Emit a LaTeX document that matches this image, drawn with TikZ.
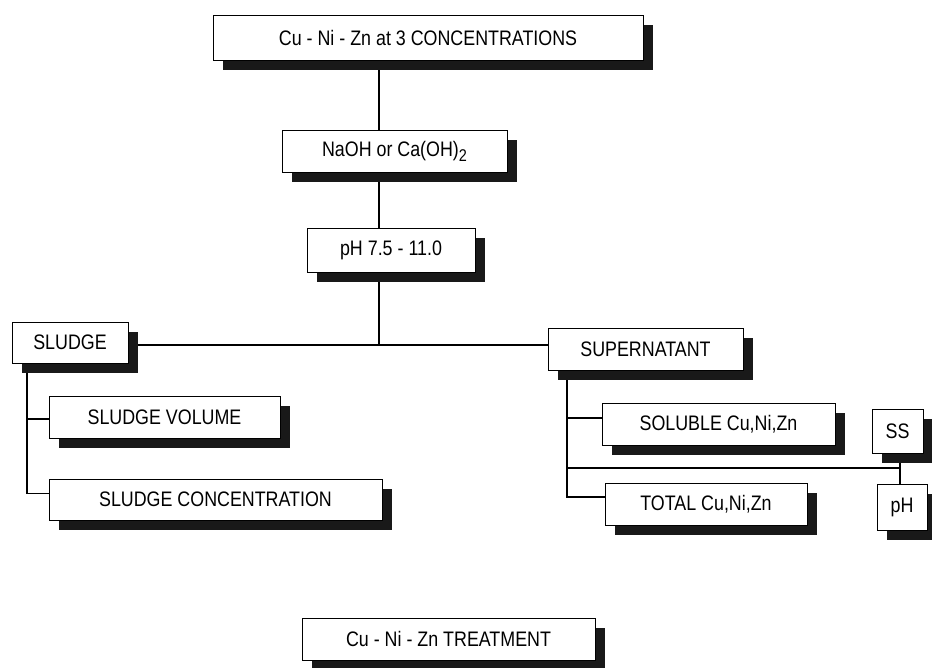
\documentclass[tikz,border=0pt]{standalone}
\usepackage{fontspec}
\setmainfont{Liberation Sans}[FakeStretch=0.85]
\usetikzlibrary{shadows,backgrounds}
\begin{document}
\begin{tikzpicture}[x=1pt,y=-1pt,
  box/.style={draw, fill=white, line width=0.8pt, inner sep=0pt,
    font=\fontsize{21}{24}\selectfont,
    drop shadow={shadow xshift=10pt, shadow yshift=-10pt, fill=black!90, opacity=1}},
  link/.style={line width=1.1pt}]
\useasboundingbox (0,0) rectangle (932,667);

% boxes
\node[box, minimum width=430pt, minimum height=45pt] (top)   at (428,37.5) {Cu - Ni - Zn at 3 CONCENTRATIONS};
\node[box, minimum width=225pt, minimum height=42pt] (naoh)  at (394.5,151) {NaOH or Ca(OH)\raisebox{-5pt}{\fontsize{17}{17}\selectfont 2}};
\node[box, minimum width=168pt, minimum height=44pt] (phr)   at (391,250) {pH 7.5 - 11.0};
\node[box, minimum width=116pt, minimum height=41pt] (sludge) at (70,342.5) {SLUDGE};
\node[box, minimum width=195pt, minimum height=42pt] (supern) at (645.5,349) {SUPERNATANT};
\node[box, minimum width=231pt, minimum height=42pt] (svol)  at (164.5,417) {SLUDGE VOLUME};
\node[box, minimum width=333pt, minimum height=41pt] (sconc) at (215.5,499.5) {SLUDGE CONCENTRATION};
\node[box, minimum width=233pt, minimum height=42pt] (sol)   at (718.5,424) {SOLUBLE Cu,Ni,Zn};
\node[box, minimum width=202pt, minimum height=42pt] (tot)   at (706,504) {TOTAL Cu,Ni,Zn};
\node[box, minimum width=51pt,  minimum height=44pt] (ss)    at (897.5,431) {SS};
\node[box, minimum width=50pt,  minimum height=46pt] (ph)    at (902,507) {pH};
\node[box, minimum width=293pt, minimum height=42pt] (treat) at (448.5,639) {Cu - Ni - Zn TREATMENT};

% guide coordinates for the connector runs
\coordinate (spine) at (379,0);
\coordinate (bus)   at (0,345);
\coordinate (lx)    at (27,0);
\coordinate (rx)    at (567,0);
\coordinate (cross) at (0,468);
\coordinate (sx)    at (900,0);
\coordinate (svin)  at ([yshift=-2pt]svol.west);
\coordinate (scin)  at ([yshift=6pt]sconc.west);
\coordinate (solin) at ([yshift=6pt]sol.west);
\coordinate (totin) at ([yshift=7pt]tot.west);

\begin{scope}[on background layer]
  \draw[link] (top.south -| spine) -- (naoh.north -| spine);
  \draw[link] (naoh.south -| spine) -- (phr.north -| spine);
  \draw[link] (phr.south -| spine) -- (spine |- bus);
  \draw[link] (sludge.east |- bus) -- (supern.west |- bus);
  % sludge branches
  \draw[link] (sludge.south -| lx) |- (scin);
  \draw[link] (lx |- svin) -- (svin);
  % supernatant branches
  \draw[link] (supern.south -| rx) |- (totin);
  \draw[link] (rx |- solin) -- (solin);
  \draw[link] (rx |- cross) -- (sx |- cross);
  \draw[link] (ss.south -| sx) -- (ph.north -| sx);
\end{scope}
\end{tikzpicture}
\end{document}
